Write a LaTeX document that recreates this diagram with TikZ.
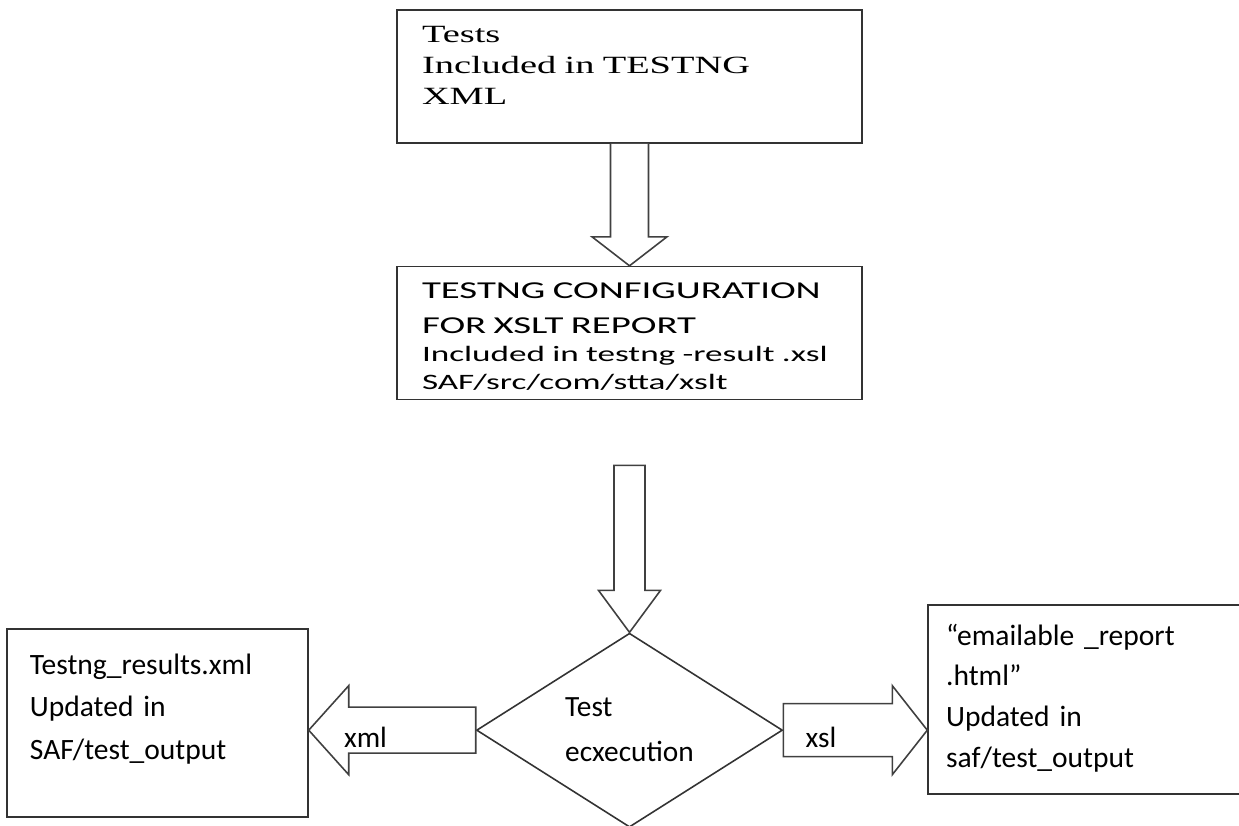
\documentclass[tikz,border=0pt]{standalone}
\usepackage{fontspec}
\setmainfont{Carlito}
\newfontfamily\timesfont{Liberation Serif}[FakeStretch=1.55]
\newfontfamily\widefont{Carlito}[FakeStretch=1.6]
\usetikzlibrary{positioning, calc, shapes.geometric}
\tikzset{
  % plain boxes, text hangs from the top left corner
  box/.style={draw=black!80, line width=0.9pt, rectangle, align=left,
    inner ysep=0pt, fill=white},
  widebox/.style={box, text width=8.3cm, inner xsep=0.5cm,
    text height=0.64cm, text depth=2.02cm},
  outbox/.style={box, font=\fontsize{16.8}{24.2}\selectfont},
  % decision diamond
  decision/.style={draw=black!80, line width=0.9pt, diamond, inner sep=0pt,
    minimum width=6.12cm, minimum height=3.88cm, align=left,
    font=\fontsize{16.7}{25.6}\selectfont},
  % hollow block arrows
  barrow/.style={draw=black!75, line width=0.9pt, fill=white, line join=miter},
  lbl/.style={font=\fontsize{16.7}{20}\selectfont, inner sep=0pt, anchor=base west},
}
\begin{document}
\begin{tikzpicture}

\clip (0,0) rectangle (24.78,-16.5);

% ---- top column ----
\node[widebox, font=\timesfont\fontsize{14.1}{17.9}\selectfont] (tests) at (12.59,-1.53) {
  Tests\\Included in TESTNG\\XML};

\node[widebox, below=2.44cm of tests, font=\widefont\fontsize{12.5}{15.9}\selectfont] (cfg) {
  {\fontsize{13.8}{15.9}\selectfont TESTNG CONFIGURATION}\\[4pt]
  {\fontsize{13.8}{15.9}\selectfont FOR XSLT REPORT}\\
  Included in testng -result .xsl\\
  SAF/src/com/stta/xslt};

\draw[barrow] ($(tests.south)+(-0.38,0)$) -- ($(cfg.north)+(-0.38,0.58)$)
  -- ($(cfg.north)+(-0.75,0.58)$) -- (cfg.north) -- ($(cfg.north)+(0.75,0.58)$)
  -- ($(cfg.north)+(0.38,0.58)$) -- ($(tests.south)+(0.38,0)$);

% ---- execution ----
\node[decision, below=4.64cm of cfg] (exec) {Test\\ecxecution};

\coordinate[below=1.3cm of cfg] (a2top);
\draw[barrow] ($(a2top)+(-0.31,0)$) -- ($(exec.north)+(-0.31,0.84)$)
  -- ($(exec.north)+(-0.62,0.84)$) -- (exec.north) -- ($(exec.north)+(0.62,0.84)$)
  -- ($(exec.north)+(0.31,0.84)$) -- ($(a2top)+(0.31,0)$) -- cycle;

% ---- outputs ----
\node[outbox, left=3.34cm of exec, yshift=0.14cm, text width=5.1cm, inner xsep=0.46cm,
      text height=0.9cm, text depth=2.86cm] (res) {
  Testng\_results.xml\\Updated in\\SAF/test\_output};

\node[outbox, right=2.88cm of exec, yshift=0.61cm, text width=5.74cm, inner xsep=0.36cm,
      text height=0.8cm, text depth=2.98cm, font=\fontsize{16.8}{23.2}\selectfont] (rep) {
  “emailable \_report\\.html”\\Updated in\\saf/test\_output};

\coordinate (xmltip) at (res.east |- exec.west);
\coordinate (xsltip) at (rep.west |- exec.east);

\draw[barrow] ($(exec.west)+(0,0.46)$) -- ($(xmltip)+(0.8,0.46)$)
  -- ($(xmltip)+(0.8,0.89)$) -- (xmltip) -- ($(xmltip)+(0.8,-0.89)$)
  -- ($(xmltip)+(0.8,-0.46)$) -- ($(exec.west)+(0,-0.46)$) -- cycle;
\node[lbl] (xml) at ($(exec.west)+(-2.64,-0.34)$) {xml};

\draw[barrow] ($(exec.east)+(0,0.53)$) -- ($(xsltip)+(-0.7,0.53)$)
  -- ($(xsltip)+(-0.7,0.89)$) -- (xsltip) -- ($(xsltip)+(-0.7,-0.89)$)
  -- ($(xsltip)+(-0.7,-0.53)$) -- ($(exec.east)+(0,-0.53)$) -- cycle;
\node[lbl] (xsl) at ($(exec.east)+(0.44,-0.34)$) {xsl};

\end{tikzpicture}
\end{document}
